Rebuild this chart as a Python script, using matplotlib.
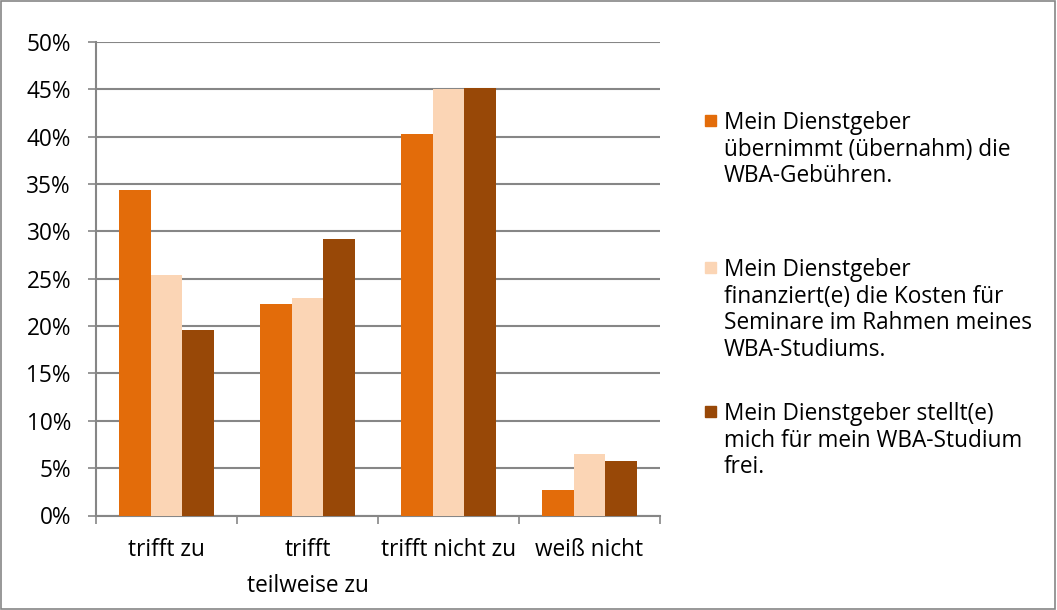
import matplotlib
matplotlib.use("Agg")
import matplotlib.pyplot as plt
import numpy as np
from matplotlib.patches import Rectangle

categories = ["trifft zu", "trifft\nteilweise zu", "trifft nicht zu", "weiß nicht"]
series_labels = [
    "Mein Dienstgeber\nübernimmt (übernahm) die\nWBA-Gebühren.",
    "Mein Dienstgeber\nfinanziert(e) die Kosten für\nSeminare im Rahmen meines\nWBA-Studiums.",
    "Mein Dienstgeber stellt(e)\nmich für mein WBA-Studium\nfrei.",
]
fees = [34.4, 22.3, 40.3, 2.7]
seminars = [25.4, 23.0, 45.0, 6.5]
release = [19.6, 29.2, 45.1, 5.8]
yticks = [0, 5, 10, 15, 20, 25, 30, 35, 40, 45, 50]
colors = ["#E36C0A", "#FBD5B5", "#984807"]

plt.rcParams['font.family'] = ['Open Sans', 'DejaVu Sans']
FS = 16.3

fig = plt.figure(figsize=(10.57, 6.10), dpi=100)
ax = fig.add_axes([96/1057, 1-515.5/610, (660-96)/1057, (515.5-42)/610])

x = np.arange(len(categories))
w = 0.223
for i, (vals, c) in enumerate(zip([fees, seminars, release], colors)):
    ax.bar(x + (i-1)*w, vals, width=w, color=c, edgecolor='none', zorder=3)

ax.set_xlim(-0.5, len(categories)-0.5)
ax.set_ylim(0, 50)
ax.set_yticks(yticks)
ax.set_yticklabels([f"{v}%" for v in yticks], fontsize=FS)
ax.yaxis.grid(True, color='#868686', linewidth=1.5, zorder=0)
ax.set_axisbelow(True)

ax.set_xticks(np.arange(len(categories)+1) - 0.5)
ax.set_xticklabels([])
ax.set_xticks(x, minor=True)
ax.set_xticklabels(categories, minor=True, fontsize=FS, linespacing=1.7, va='top')
ax.tick_params(axis='x', which='minor', length=0, pad=16)
ax.tick_params(axis='x', which='major', length=6, width=1.2, color='#868686', direction='out')
ax.tick_params(axis='y', length=6, width=1.2, color='#868686', direction='out', pad=12)

for s in ['top', 'right']:
    ax.spines[s].set_visible(False)
for s in ['left', 'bottom']:
    ax.spines[s].set_color('#868686')
    ax.spines[s].set_linewidth(1.5)

# legend
starts = [120, 267, 411]
for lab, c, y0 in zip(series_labels, colors, starts):
    fig.patches.append(Rectangle((705/1057, 1-(y0+6)/610), 11/1057, 11/610,
                                 transform=fig.transFigure, color=c, figure=fig))
    fig.text(724/1057, 1-(y0-9)/610, lab, fontsize=FS, va='top', ha='left', linespacing=1.15)

# outer border
fig.patches.append(Rectangle((0.001, 0.002), 0.997, 0.996, transform=fig.transFigure,
                             fill=False, edgecolor='#868686', linewidth=1.2, figure=fig))

fig.savefig("out.png", dpi=100)
